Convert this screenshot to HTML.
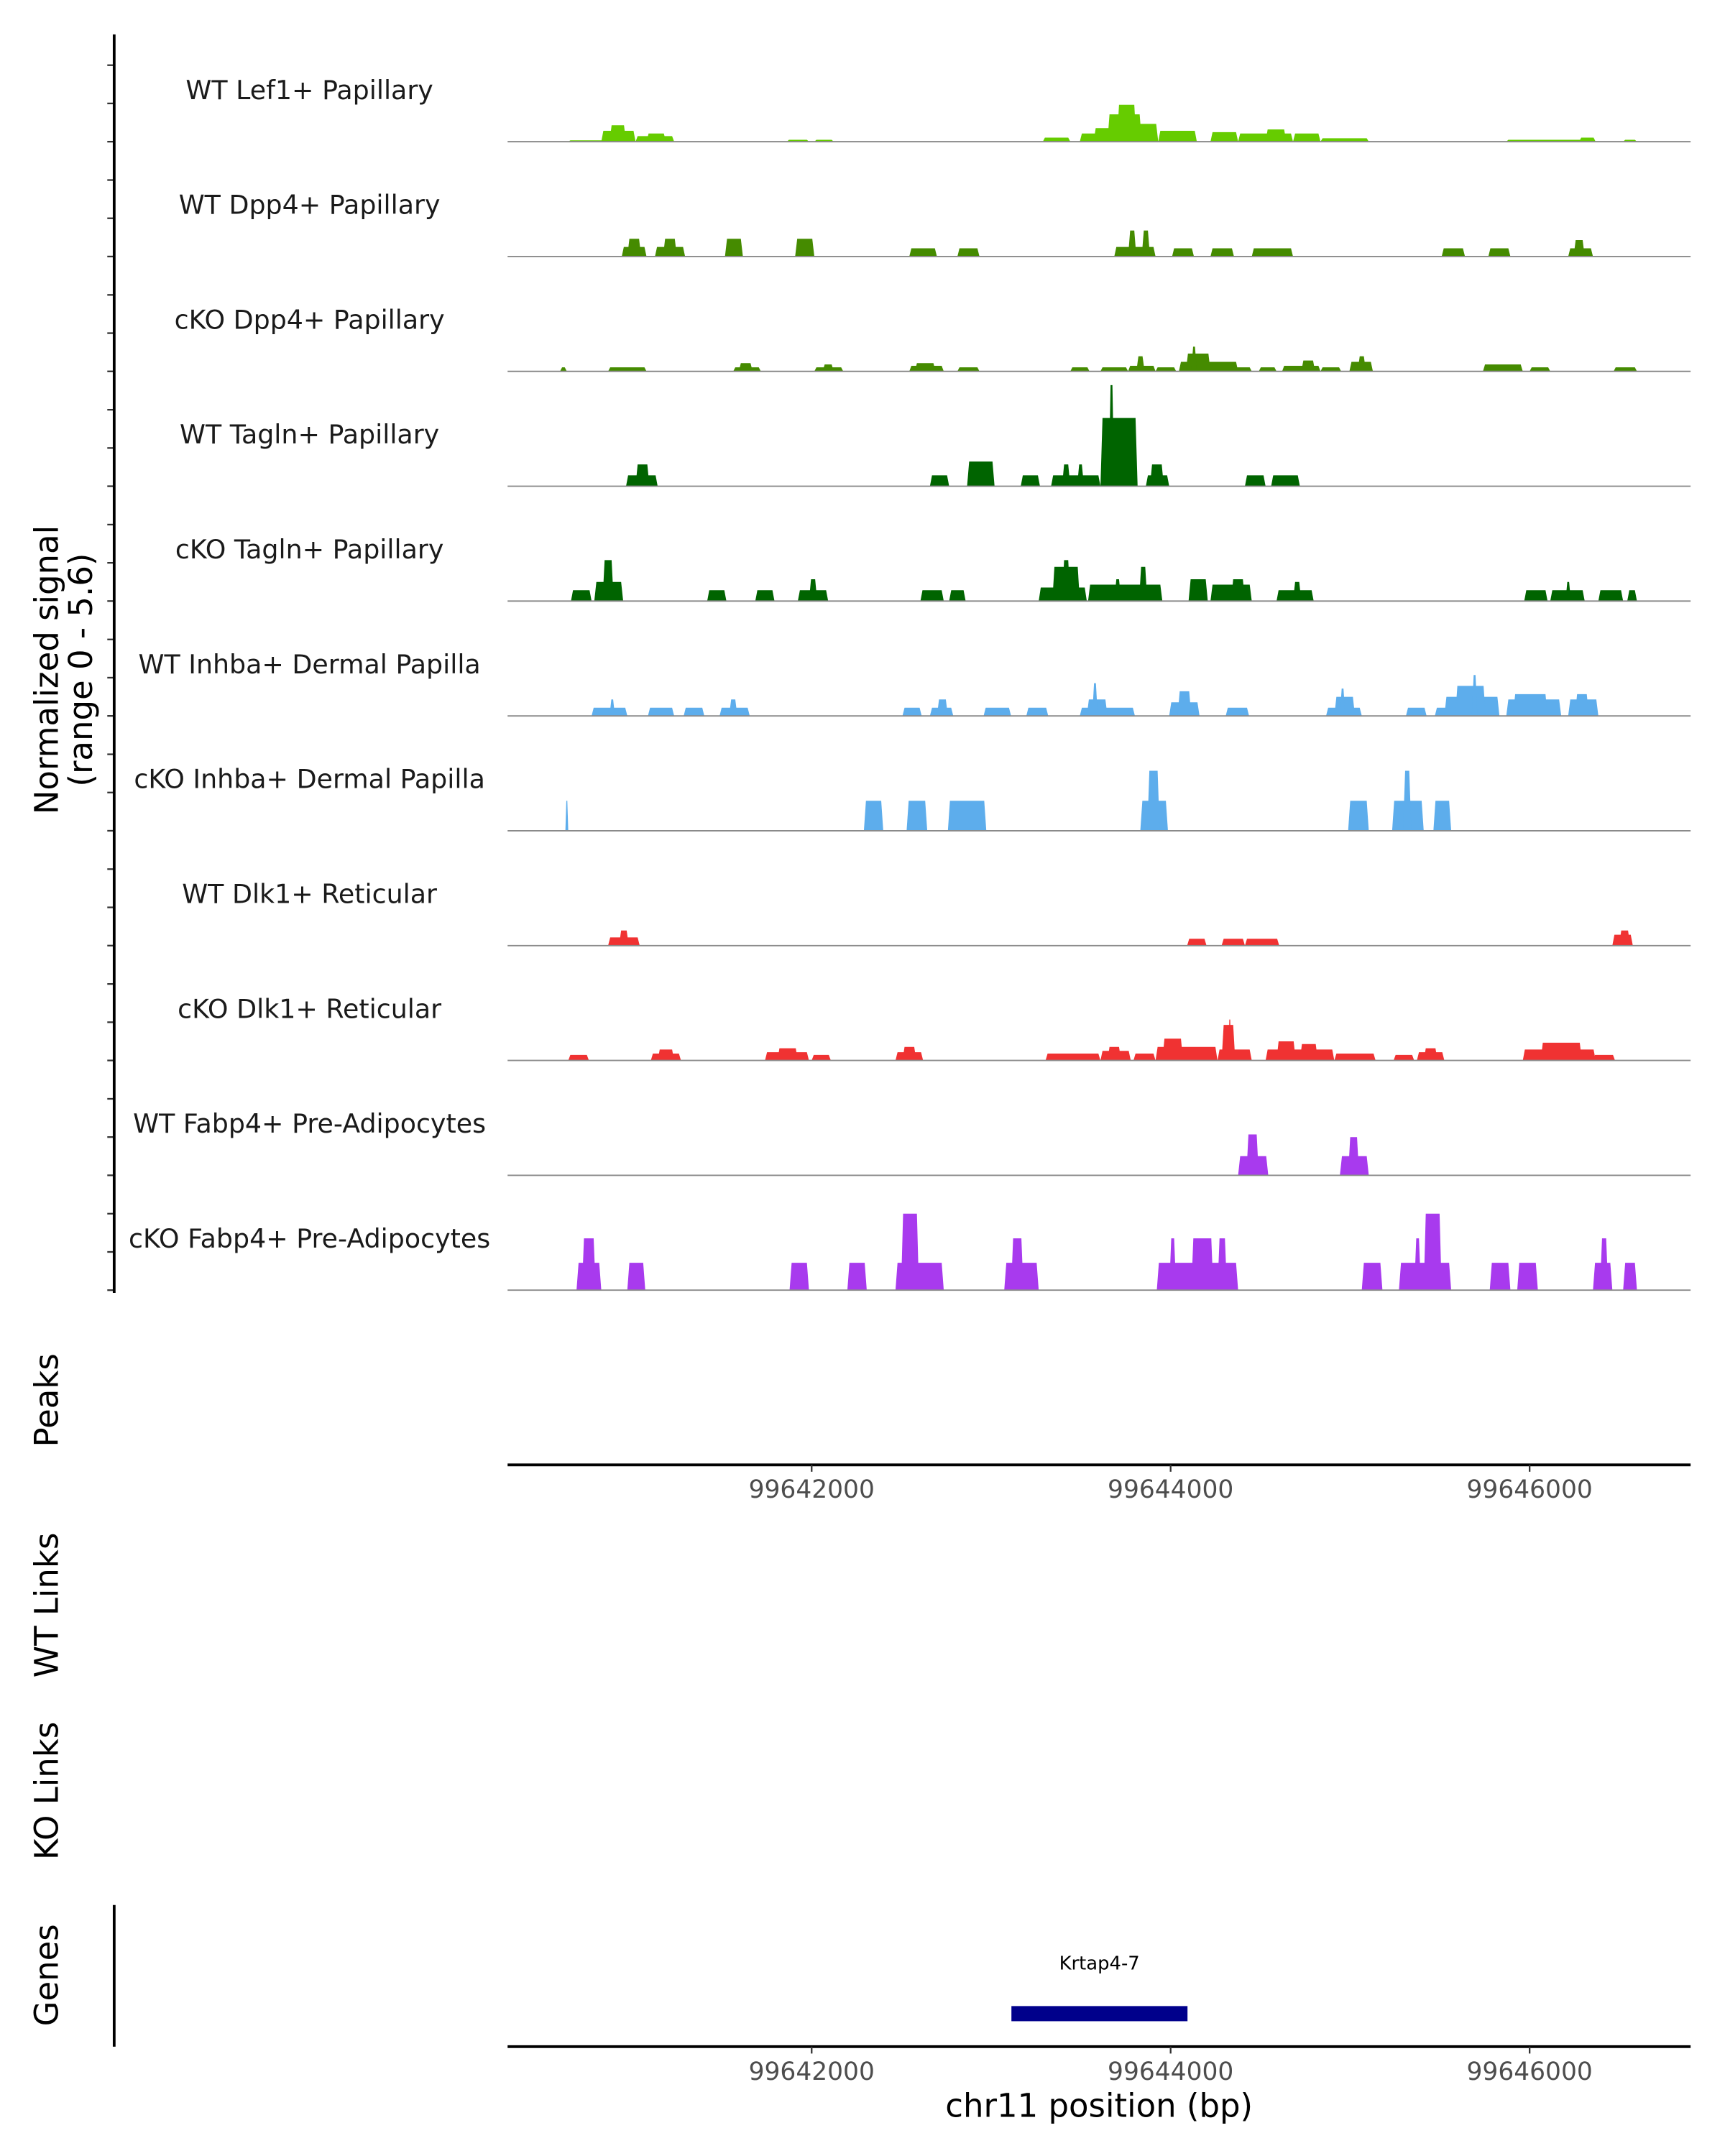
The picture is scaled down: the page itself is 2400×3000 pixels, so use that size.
<!DOCTYPE html>
<html><head><meta charset="utf-8"><style>
html,body{margin:0;padding:0;background:#fff;}
svg{display:block;}
text{font-family:"DejaVu Sans","Liberation Sans",sans-serif;}
</style></head><body>
<svg id="chart" width="2400" height="3000" viewBox="0 0 1254 1567.5" preserveAspectRatio="none" xmlns="http://www.w3.org/2000/svg">
<rect x="0" y="0" width="1254" height="1567.5" fill="#fff"/>
<g>
<text x="42" y="487" font-size="23.5" text-anchor="middle" fill="#000" transform="rotate(-90 42 487)">Normalized signal</text>
<text x="67" y="487" font-size="23.5" text-anchor="middle" fill="#000" transform="rotate(-90 67 487)">(range 0 - 5.6)</text>
</g>
<text x="42" y="1018" font-size="23.5" text-anchor="middle" transform="rotate(-90 42 1018)">Peaks</text>
<text x="42" y="1167" font-size="23.5" text-anchor="middle" transform="rotate(-90 42 1167)">WT Links</text>
<text x="42" y="1302" font-size="23.5" text-anchor="middle" transform="rotate(-90 42 1302)">KO Links</text>
<text x="42" y="1436" font-size="23.5" text-anchor="middle" transform="rotate(-90 42 1436)">Genes</text>
<line x1="83" y1="1385" x2="83" y2="1488" stroke="#000" stroke-width="2"/>
<g id="tracks"></g>
<g id="axes"></g>
</svg>
<script>
const regionStart = 99640306;
const regionEnd = 99646897;
const xTicks = [99642000, 99644000, 99646000];
const xTickLabels = ["99642000", "99644000", "99646000"];
const yTickValues = [0, 2, 4];
const trackNames = ["WT Lef1+ Papillary","WT Dpp4+ Papillary","cKO Dpp4+ Papillary","WT Tagln+ Papillary","cKO Tagln+ Papillary","WT Inhba+ Dermal Papilla","cKO Inhba+ Dermal Papilla","WT Dlk1+ Reticular","cKO Dlk1+ Reticular","WT Fabp4+ Pre-Adipocytes","cKO Fabp4+ Pre-Adipocytes"];
const trackColors = ["#66CC00","#458B00","#458B00","#006400","#006400","#5DADEC","#5DADEC","#F03232","#F03232","#A83AEE","#A83AEE"];
const B = 99640000;
const lef1Wt = [[644,851,.07],[828,1019,.57],[874,966,.86],[1019,1234,.29],[1080,1188,.43],[1862,1985,.1],[2015,2123,.1],[3288,3441,.21],[3494,3839,.43],[3571,3724,.71],[3648,3839,1.43],[3701,3809,1.93],[3809,3931,.93],[3931,4146,.57],[4222,4376,.5],[4376,4682,.43],[4529,4644,.64],[4682,4835,.43],[4835,5104,.18],[5870,6368,.1],[6276,6368,.21],[6521,6598,.1]];
const dpp4Wt = [[942,1080,.5],[973,1050,.93],[1127,1295,.5],[1172,1249,.93],[1517,1617,.93],[1908,2015,.93],[2544,2698,.43],[2812,2935,.43],[3686,3916,.5],[3763,3809,1.36],[3839,3885,1.36],[4008,4130,.43],[4222,4353,.43],[4452,4682,.43],[5510,5640,.43],[5770,5893,.43],[6215,6353,.43],[6245,6307,.86]];
const dpp4Ko = [[598,636,.21],[866,1080,.21],[1563,1717,.21],[1594,1671,.43],[2015,2176,.21],[2061,2123,.36],[2544,2736,.29],[2575,2690,.43],[2812,2935,.21],[3441,3548,.21],[3609,3763,.21],[3763,3916,.29],[3809,3855,.79],[3916,4031,.21],[4046,4376,.5],[4085,4222,.93],[4115,4146,1.29],[4222,4353,.43],[4353,4452,.21],[4491,4590,.21],[4621,4835,.29],[4728,4805,.57],[4835,4950,.21],[4996,5127,.5],[5042,5088,.79],[5740,5962,.36],[6000,6115,.21],[6468,6598,.21]];
const taglnWt = [[966,1142,.57],[1019,1096,1.14],[2659,2766,.57],[2866,3019,1.29],[3165,3272,.57],[3334,3609,.57],[3395,3441,1.14],[3479,3517,1.14],[3609,3816,3.57],[3655,3686,5.29],[3724,3793,2.86],[3862,3992,.57],[3885,3962,1.14],[4414,4529,.57],[4560,4720,.57]];
const taglnKo = [[659,774,.57],[789,950,1.0],[835,897,2.14],[1418,1525,.57],[1686,1793,.57],[1923,2092,.57],[1985,2031,1.14],[2606,2736,.57],[2766,2858,.57],[3265,3533,.71],[3341,3494,1.79],[3395,3441,2.14],[3540,3954,.86],[3686,3724,1.14],[3824,3870,1.79],[4100,4207,1.14],[4222,4452,.86],[4337,4414,1.14],[4590,4797,.57],[4682,4728,1.0],[5970,6100,.57],[6115,6307,.57],[6200,6230,1.0],[6383,6521,.57],[6544,6598,.57]];
const inhbaWt = [[774,973,.43],[874,904,.86],[1088,1234,.43],[1287,1402,.43],[1487,1655,.43],[1540,1586,.86],[2506,2613,.43],[2659,2789,.43],[2698,2759,.86],[2958,3111,.43],[3196,3318,.43],[3494,3801,.43],[3533,3648,.86],[3563,3594,1.71],[3992,4161,.71],[4039,4115,1.29],[4307,4437,.43],[4866,5065,.43],[4912,5027,1.0],[4943,4973,1.43],[5311,5426,.43],[5472,5602,.43],[5525,5832,1.0],[5586,5755,1.57],[5678,5709,2.14],[5870,6176,.86],[5908,6100,1.14],[6215,6383,.86],[6253,6330,1.14]];
const inhbaKo = [[628,644,1.57],[2291,2399,1.57],[2529,2644,1.57],[2759,2973,1.57],[3831,3985,1.57],[3870,3939,3.14],[4989,5104,1.57],[5234,5410,1.57],[5295,5341,3.14],[5464,5563,1.57]];
const dlk1Wt = [[866,1042,.43],[927,981,.79],[4092,4200,.36],[4284,4414,.36],[4414,4605,.36],[6461,6575,.57],[6499,6560,.79]];
const dlk1Ko = [[644,759,.29],[1104,1272,.36],[1142,1234,.57],[1740,1985,.43],[1809,1923,.64],[2000,2107,.29],[2467,2621,.43],[2506,2583,.71],[3303,3609,.36],[3609,3778,.5],[3648,3724,.71],[3793,3916,.36],[3916,4261,.71],[3954,4069,1.14],[4261,4452,.57],[4284,4360,1.86],[4322,4337,2.14],[4529,4912,.57],[4590,4697,1.0],[4720,4820,.86],[4912,5142,.36],[5242,5357,.29],[5372,5525,.43],[5410,5487,.64],[5962,6368,.57],[6062,6291,.93],[6353,6476,.29]];
const fabp4Wt = [[4376,4544,1.0],[4422,4491,2.14],[4943,5104,1.0],[4989,5050,2.0]];
const fabp4Ko = [[690,828,1.43],[720,797,2.71],[973,1073,1.43],[1877,1985,1.43],[2199,2307,1.43],[2467,2736,1.43],[2498,2598,4.0],[3073,3265,1.43],[3111,3180,2.71],[3923,4376,1.43],[3992,4031,2.71],[4115,4238,2.71],[4261,4314,2.71],[5065,5180,1.43],[5272,5563,1.43],[5357,5395,2.71],[5410,5510,4.0],[5778,5893,1.43],[5931,6046,1.43],[6353,6461,1.43],[6392,6438,2.71],[6521,6598,1.43]];
const geneName = "Krtap4-7";
const geneStart = 99643113;
const geneEnd = 99644094;

const trackData = [lef1Wt,dpp4Wt,dpp4Ko,taglnWt,taglnKo,inhbaWt,inhbaKo,dlk1Wt,dlk1Ko,fabp4Wt,fabp4Ko];
const NS = "http://www.w3.org/2000/svg";
const plotL = 369, plotR = 1229;
const firstBase = 103, trackH = 83.5, pxPerUnit = 13.9;
function xScale(bp){ return plotL + (bp - regionStart) / (regionEnd - regionStart) * (plotR - plotL); }
function yScale(v, base){ return base - v * pxPerUnit; }
function mk(tag, attrs, parent){ const e = document.createElementNS(NS, tag); for (const k in attrs) e.setAttribute(k, attrs[k]); parent.appendChild(e); return e; }
const tracks = document.getElementById('tracks');
const axes = document.getElementById('axes');

const yAxis = mk('line', {x1:83, y1:25, x2:83, y2:940, stroke:'#000', 'stroke-width':2}, axes);



trackData.forEach((rows, i) => {
  const base = firstBase + i * trackH;
  const g = mk('g', {}, tracks);
  
  
  yTickValues.forEach(v => {
    const y = yScale(v, base);
    const t = mk('line', {x1:78, y1:y, x2:83, y2:y, stroke:'#333', 'stroke-width':1.2}, g);
    
    
  });
  const lbl = mk('text', {x:225, y:base - 31, 'font-size':19, 'text-anchor':'middle', fill:'#1a1a1a'}, g);
  lbl.textContent = trackNames[i];
  
  
  rows.forEach(r => {
    const x1 = xScale(B + r[0]), x2 = xScale(B + r[1]);
    const yt = yScale(r[2], base);
    const ramp = Math.min(1.5, (x2 - x1) / 3);
    const p = mk('polygon', {points: `${x1},${base} ${x1+ramp},${yt} ${x2-ramp},${yt} ${x2},${base}`, fill: trackColors[i]}, g);
    
    
  });
  const bl = mk('line', {x1:plotL, y1:base, x2:plotR, y2:base, stroke:'#8a8a8a', 'stroke-width':1}, g);
  
  
});

[1065, 1488].forEach((ay, k) => {
  const g = mk('g', {}, axes);
  
  
  mk('line', {x1:plotL, y1:ay, x2:plotR, y2:ay, stroke:'#000', 'stroke-width':2}, g);
  xTicks.forEach((t, j) => {
    const x = xScale(t);
    const tk = mk('line', {x1:x, y1:ay, x2:x, y2:ay + 5, stroke:'#333', 'stroke-width':1.2}, g);
    
    
    const tl = mk('text', {x:x, y:ay + 24, 'font-size':18, 'text-anchor':'middle', fill:'#4d4d4d'}, g);
    tl.textContent = xTickLabels[j];
    
    
  });
});
const xt = mk('text', {x:799, y:1539, 'font-size':23.5, 'text-anchor':'middle', fill:'#000'}, axes);
xt.textContent = 'chr11 position (bp)';



const gx1 = xScale(geneStart), gx2 = xScale(geneEnd);
const gene = mk('rect', {x:gx1, y:1458.5, width:gx2 - gx1, height:11, fill:'#00008B'}, axes);


const gl = mk('text', {x:(gx1 + gx2) / 2, y:1432, 'font-size':13.5, 'text-anchor':'middle', fill:'#000'}, axes);
gl.textContent = geneName;


</script>
</body></html>
